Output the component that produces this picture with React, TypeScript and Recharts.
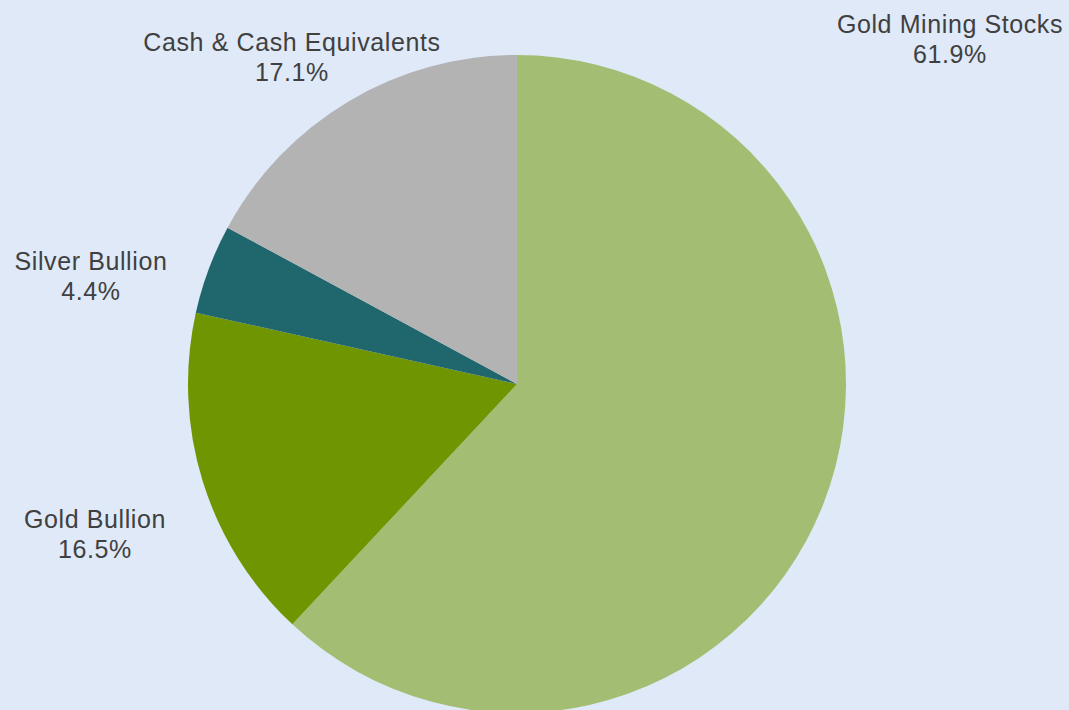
import React from 'react';
import { PieChart, Pie, Cell } from 'recharts';

const categories = ['Gold Mining Stocks', 'Gold Bullion', 'Silver Bullion', 'Cash & Cash Equivalents'];
const shares = [61.9, 16.5, 4.4, 17.1];
const colors = ['#A3BE72', '#6F9500', '#20676D', '#B3B3B3'];

// where Excel put each label (centre x, first baseline)
const labelPos: [number, number][] = [
  [950, 33],
  [95, 528],
  [91, 270],
  [292, 51],
];

const data = categories.map((name, i) => ({ name, value: shares[i] }));

const W = 1069;
const H = 710;

function renderLabel(props: any) {
  const i = props.index;
  const [x, y] = labelPos[i];
  return (
    <text
      x={x}
      y={y}
      textAnchor="middle"
      fill="#404040"
      fontSize={25}
      letterSpacing={0.6}
      fontFamily="'Liberation Sans', Arial, sans-serif"
    >
      <tspan x={x} y={y}>{categories[i]}</tspan>
      <tspan x={x} y={y + 30}>{shares[i].toFixed(1)}%</tspan>
    </text>
  );
}

export default function App() {
  return (
    <div style={{ position: 'fixed', left: 0, top: 0, width: W, height: H, background: '#DFE9F8' }}>
      <PieChart width={W} height={H} margin={{ top: 0, right: 0, bottom: 0, left: 0 }}>
        <Pie
          data={data}
          dataKey="value"
          nameKey="name"
          cx={517}
          cy={384}
          outerRadius={329}
          startAngle={90}
          endAngle={-270}
          stroke="none"
          labelLine={false}
          label={renderLabel}
          isAnimationActive={false}
        >
          {data.map((d, i) => (
            <Cell key={d.name} fill={colors[i]} />
          ))}
        </Pie>
      </PieChart>
    </div>
  );
}
